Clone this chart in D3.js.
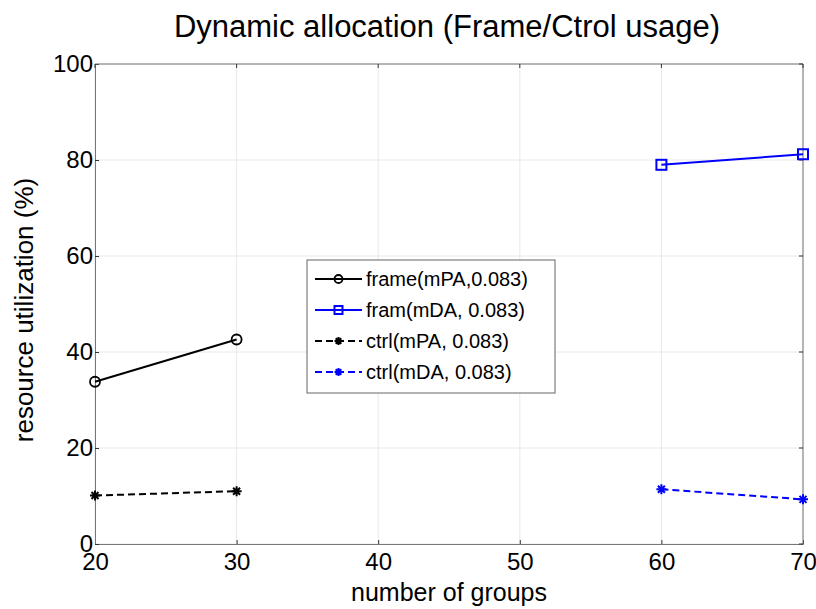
<!DOCTYPE html>
<meta charset="utf-8">
<style>
body { margin: 0; background: #fff; }
text { font-family: "Liberation Sans", Arial, sans-serif; fill: #000; }
.grid line { stroke: #e8e8e8; stroke-width: 1; }
</style>
<body>
<script src="https://d3js.org/d3.v7.min.js"></script>
<script>
var xTicks = [20, 30, 40, 50, 60, 70];
var yTicks = [0, 20, 40, 60, 80, 100];

var framePA = [{x: 20, y: 33.8}, {x: 30, y: 42.6}];
var frameDA = [{x: 60, y: 79.0}, {x: 70, y: 81.2}];
var ctrlPA  = [{x: 20, y: 10.1}, {x: 30, y: 11.0}];
var ctrlDA  = [{x: 60, y: 11.4}, {x: 70, y: 9.3}];

var labels = ["frame(mPA,0.083)", "fram(mDA, 0.083)", "ctrl(mPA, 0.083)", "ctrl(mDA, 0.083)"];

var margin = {top: 64, right: 13, bottom: 65, left: 95},
    width = 816 - margin.left - margin.right,
    height = 609 - margin.top - margin.bottom;

var svg = d3.select("body").append("svg")
    .attr("width", 816)
    .attr("height", 609)
  .append("g")
    .attr("transform", "translate(" + margin.left + "," + margin.top + ")");

var x = d3.scaleLinear().domain([20, 70]).range([0, width]);
var y = d3.scaleLinear().domain([0, 100]).range([height, 0]);

// grid
svg.append("g").attr("class", "grid")
  .selectAll("line").data(xTicks).enter().append("line")
    .attr("x1", d => x(d)).attr("x2", d => x(d))
    .attr("y1", 0).attr("y2", height);
svg.append("g").attr("class", "grid")
  .selectAll("line").data(yTicks).enter().append("line")
    .attr("y1", d => y(d)).attr("y2", d => y(d))
    .attr("x1", 0).attr("x2", width);

// axes
var xAxis = svg.append("g")
    .attr("transform", "translate(0," + height + ")")
    .call(d3.axisBottom(x).tickValues(xTicks).tickSize(-4).tickPadding(9));
var yAxis = svg.append("g")
    .call(d3.axisLeft(y).tickValues(yTicks).tickSize(-4).tickPadding(2));
[xAxis, yAxis].forEach(function(a) {
  a.selectAll("text").style("font-size", "24px").attr("fill", "#000");
  a.select(".domain").attr("stroke", "#777");
  a.selectAll(".tick line").attr("stroke", "#333");
});
xAxis.selectAll("text").attr("dy", "0.71em");
yAxis.selectAll("text").attr("dy", "0.3em");

// top and right border
svg.append("line").attr("x1", 0).attr("x2", width).attr("y1", 0).attr("y2", 0).attr("stroke", "#777");
svg.append("line").attr("x1", width).attr("x2", width).attr("y1", 0).attr("y2", height).attr("stroke", "#777");
svg.append("g").selectAll("line").data(xTicks).enter().append("line")
  .attr("x1", d => x(d)).attr("x2", d => x(d)).attr("y1", 0).attr("y2", 4).attr("stroke", "#333");
svg.append("g").selectAll("line").data(yTicks).enter().append("line")
  .attr("y1", d => y(d)).attr("y2", d => y(d)).attr("x1", width).attr("x2", width - 4).attr("stroke", "#333");

var line = d3.line().x(d => x(d.x)).y(d => y(d.y));

var series = [
  {data: framePA, color: "#000", dash: null, marker: "circle"},
  {data: frameDA, color: "#0000ff", dash: null, marker: "square"},
  {data: ctrlPA, color: "#000", dash: "7,4", marker: "star"},
  {data: ctrlDA, color: "#0000ff", dash: "7,4", marker: "star"}
];

function drawMarker(g, type, color, r) {
  if (type === "circle") {
    g.append("circle").attr("r", r).attr("fill", "none").attr("stroke", color).attr("stroke-width", 1.8);
  } else if (type === "square") {
    g.append("rect").attr("x", -r).attr("y", -r).attr("width", 2 * r).attr("height", 2 * r)
      .attr("fill", "none").attr("stroke", color).attr("stroke-width", 2);
  } else {
    var k = r * 0.7;
    g.append("path")
      .attr("d", "M" + (-r) + ",0H" + r + "M0," + (-r) + "V" + r +
                 "M" + (-k) + "," + (-k) + "L" + k + "," + k + "M" + (-k) + "," + k + "L" + k + "," + (-k))
      .attr("stroke", color).attr("stroke-width", 2).attr("fill", "none");
    g.append("circle").attr("r", 2).attr("fill", color);
  }
}

series.forEach(function(s) {
  svg.append("path").datum(s.data)
    .attr("d", line)
    .attr("fill", "none")
    .attr("stroke", s.color)
    .attr("stroke-width", 2)
    .attr("stroke-dasharray", s.dash);
  s.data.forEach(function(d) {
    var g = svg.append("g").attr("transform", "translate(" + x(d.x) + "," + y(d.y) + ")");
    drawMarker(g, s.marker, s.color, 5);
  });
});

// legend
var legend = svg.append("g").attr("transform", "translate(212,196)");
legend.append("rect").attr("width", 248).attr("height", 133)
  .attr("fill", "#fff").attr("stroke", "#666").attr("stroke-width", 1);
series.forEach(function(s, i) {
  var row = legend.append("g").attr("transform", "translate(0," + (19 + i * 31) + ")");
  row.append("line").attr("x1", 8).attr("x2", 55).attr("y1", 0).attr("y2", 0)
    .attr("stroke", s.color).attr("stroke-width", 2).attr("stroke-dasharray", s.dash);
  var m = row.append("g").attr("transform", "translate(31.5,0)");
  drawMarker(m, s.marker, s.color, 4);
  row.append("text").attr("x", 59).attr("dy", "0.35em").style("font-size", "20px").text(labels[i]);
});

// title and labels
d3.select("svg").append("text")
  .attr("x", 447).attr("y", 37).attr("text-anchor", "middle")
  .style("font-size", "31px").text("Dynamic allocation (Frame/Ctrol usage)");
d3.select("svg").append("text")
  .attr("x", 449).attr("y", 601).attr("text-anchor", "middle")
  .style("font-size", "25px").text("number of groups");
d3.select("svg").append("text")
  .attr("transform", "translate(33,310) rotate(-90)").attr("text-anchor", "middle")
  .style("font-size", "26px").text("resource utilization (%)");
</script>
</body>
